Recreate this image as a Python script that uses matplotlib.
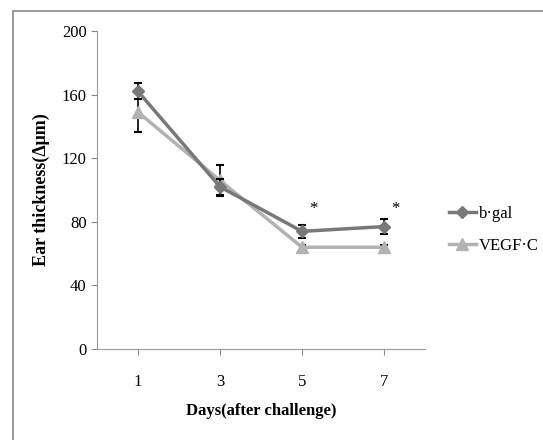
import matplotlib.pyplot as plt
from matplotlib.patches import Rectangle

days = ["1", "3", "5", "7"]
bgal = [162, 102, 74, 77]
bgal_err = [5, 5, 4, 4.5]
vegfc = [149, 106, 64, 64]
vegfc_err = [12.5, 10, 1.5, 1.5]
star_days = [2, 3]
star_y = [88, 88]

plt.rcParams['font.family'] = ['Liberation Serif', 'DejaVu Serif']

fig = plt.figure(figsize=(5.43, 4.40), dpi=100)
ax = fig.add_axes([97 / 543, 1 - 349 / 440, 328 / 543, 318 / 440])

x = list(range(len(days)))
ax.errorbar(x, bgal, yerr=bgal_err, color='#787878', lw=2.5, marker='D', ms=6,
            ecolor='black', elinewidth=1.2, capsize=3, capthick=1.5, label='b-gal', zorder=3)
ax.errorbar(x, vegfc, yerr=vegfc_err, color='#b2b2b2', lw=2.5, marker='^', ms=8,
            ecolor='black', elinewidth=1.2, capsize=3, capthick=1.5, label='VEGF-C', zorder=2)

for d, yv in zip(star_days, star_y):
    ax.text(d + 0.14, yv, '*', ha='center', va='center', fontsize=12)

ax.set_xlim(-0.5, 3.5)
ax.set_ylim(0, 200)
ax.set_yticks([0, 40, 80, 120, 160, 200])
ax.set_xticks(x)
ax.set_xticklabels(days)
ax.tick_params(axis='both', labelsize=12, colors='#888888', labelcolor='black', length=4, width=0.8)
ax.tick_params(axis='x', pad=14)
for s in ['top', 'right']:
    ax.spines[s].set_visible(False)
for s in ['left', 'bottom']:
    ax.spines[s].set_color('#999999')
    ax.spines[s].set_linewidth(0.8)

ax.set_ylabel('Ear thickness(\u0394\u03bcm)', fontsize=13, fontweight='bold', labelpad=8)
ax.set_xlabel('Days(after challenge)', fontsize=12, fontweight='bold', labelpad=9)

h, l = ax.get_legend_handles_labels()
h = [hh[0] for hh in h]
fig.legend(h, ['b\u00b7gal', 'VEGF\u00b7C'], loc='center left', bbox_to_anchor=(434 / 543, 1 - 230 / 440),
           frameon=False, fontsize=12, handlelength=1.6, handletextpad=0.2, labelspacing=1.0)

fig.patches.append(Rectangle((13 / 543, -0.1), 1.2, 1 - 11.5 / 440 + 0.1, transform=fig.transFigure,
                             fill=False, edgecolor='#888888', lw=1.2))

fig.savefig('out.png', dpi=100)
